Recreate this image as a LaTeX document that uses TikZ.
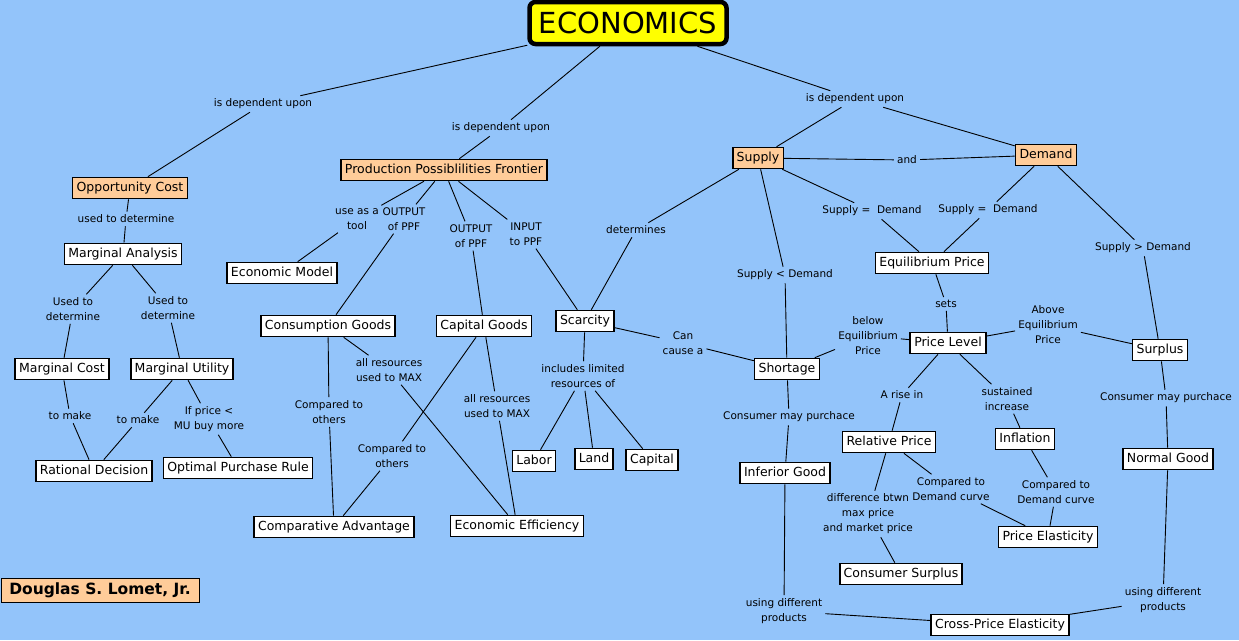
\documentclass[tikz,border=0pt]{standalone}
\usepackage{fontspec}
\setmainfont{DejaVu Sans}
\definecolor{sfondo}{RGB}{147,196,250}
\definecolor{arancio}{RGB}{255,204,153}
\definecolor{giallo}{RGB}{255,255,0}
\tikzset{
  concetto/.style={draw, line width=1.6pt, fill=white,
    font=\fontsize{12.5}{14}\selectfont, inner xsep=4pt, inner ysep=0pt,
    minimum height=21pt, text height=9.5pt, text depth=2.5pt},
  chiave/.style={concetto, fill=arancio},
  radice/.style={draw, line width=4.5pt, rounded corners=6pt, fill=giallo,
    font=\fontsize{29}{32}\selectfont, minimum width=197pt, minimum height=42pt},
  firma/.style={draw, line width=0.8pt, fill=arancio,
    font=\bfseries\fontsize{15.5}{17}\selectfont, minimum width=198pt, minimum height=24pt},
  legame/.style={font=\fontsize{10.5}{15}\selectfont, align=center, inner sep=3pt},
  filo/.style={line width=0.9pt},
}
\begin{document}
\begin{tikzpicture}[x=1pt,y=-1pt]
        % --- macro riutilizzabili -----------------------------------------
        \def\concetto#1#2#3{\node[concetto] (#1) at (#2) {#3};}
        \def\arancio#1#2#3{\node[chiave] (#1) at (#2) {#3};}
        \def\legame#1#2#3{\node[legame] (#1) at (#2) {#3};}
        \def\lega#1#2{\draw[filo] (#1) -- (#2);}
        % --- sfondo -------------------------------------------------------
        \fill[sfondo] (0,0) rectangle (1239,640);
        \useasboundingbox (0,0) rectangle (1239,640);
        % --- concetti -----------------------------------------------------
        \node[radice] (eco) at (628,23) {ECONOMICS};
        \arancio{opp}{130,188}{Opportunity Cost}
        \arancio{ppf}{444,170}{Production Possiblilities Frontier}
        \arancio{sup}{758,158}{Supply}
        \arancio{dem}{1046,155}{Demand}
        \concetto{man}{123,254}{Marginal Analysis}
        \concetto{mod}{282,273}{Economic Model}
        \concetto{cons}{328,326}{Consumption Goods}
        \concetto{capg}{484,326}{Capital Goods}
        \concetto{scar}{585,321}{Scarcity}
        \concetto{equ}{932,263}{Equilibrium Price}
        \concetto{short}{787,369}{Shortage}
        \concetto{plev}{948,343}{Price Level}
        \concetto{surp}{1160,350}{Surplus}
        \concetto{mcost}{62,369}{Marginal Cost}
        \concetto{mutil}{182,369}{Marginal Utility}
        \concetto{rat}{94,471}{Rational Decision}
        \concetto{opt}{238,468}{Optimal Purchase Rule}
        \concetto{comp}{334,527}{Comparative Advantage}
        \concetto{eff}{517,526}{Economic Efficiency}
        \concetto{lab}{534,461}{Labor}
        \concetto{land}{594,459}{Land}
        \concetto{capi}{652,460}{Capital}
        \concetto{rel}{889,442}{Relative Price}
        \concetto{infl}{1025,439}{Inflation}
        \concetto{inf}{785,473}{Inferior Good}
        \concetto{norm}{1168,459}{Normal Good}
        \concetto{pel}{1048,537}{Price Elasticity}
        \concetto{csur}{901,574}{Consumer Surplus}
        \concetto{cross}{1000,625}{Cross-Price Elasticity}
        \node[firma] (autore) at (100,590) {Douglas S. Lomet, Jr.};
        % --- frasi di collegamento ----------------------------------------
        \legame{dipA}{263,104}{is dependent upon}
        \legame{dipB}{501,128}{is dependent upon}
        \legame{dipC}{855,99}{is dependent upon}
        \legame{usoA}{126,219}{used to determine}
        \legame{usoB}{73,309}{Used to\\determine}
        \legame{usoC}{168,308}{Used to\\determine}
        \legame{fareA}{70,416}{to make}
        \legame{fareB}{138,420}{to make}
        \legame{regola}{209,419}{If price <\\MU buy more}
        \legame{tool}{357,219}{use as a\\tool}
        \legame{outA}{404,219}{OUTPUT\\of PPF}
        \legame{outB}{471,236}{OUTPUT\\of PPF}
        \legame{inp}{526,234}{INPUT\\to PPF}
        \legame{det}{636,230}{determines}
        \legame{maxA}{389,370}{all resources\\used to MAX}
        \legame{cfrA}{329,412}{Compared to\\others}
        \legame{maxB}{497,406}{all resources\\used to MAX}
        \legame{cfrB}{392,456}{Compared to\\others}
        \legame{incl}{583,376}{includes limited\\resources of}
        \legame{causa}{683,343}{Can\\cause a}
        \legame{meno}{785,275}{Supply < Demand}
        \legame{and}{907,160}{and}
        \legame{ugA}{872,211}{Supply = ~Demand}
        \legame{ugB}{988,210}{Supply = ~Demand}
        \legame{piu}{1143,248}{Supply > Demand}
        \legame{sets}{946,304}{sets}
        \legame{sotto}{868,336}{below\\Equilibrium\\Price}
        \legame{sopra}{1048,325}{Above\\Equilibrium\\Price}
        \legame{acqA}{789,417}{Consumer may purchace}
        \legame{rise}{902,395}{A rise in}
        \legame{sost}{1007,399}{sustained\\increase}
        \legame{acqB}{1166,398}{Consumer may purchace}
        \legame{diff}{868,514}{difference btwn\\max price\\and market price}
        \legame{cdA}{951,489}{Compared to\\Demand curve}
        \legame{cdB}{1056,492}{Compared to\\Demand curve}
        \legame{uA}{784,611}{using different\\products}
        \legame{uB}{1163,600}{using different\\products}
        % --- collegamenti -------------------------------------------------
        \lega{eco}{dipA} \lega{dipA}{opp}
        \lega{eco}{dipB} \lega{dipB}{ppf}
        \lega{eco}{dipC} \lega{dipC}{sup} \lega{dipC}{dem}
        \lega{opp}{usoA} \lega{usoA}{man}
        \lega{man}{usoB} \lega{usoB}{mcost}
        \lega{man}{usoC} \lega{usoC}{mutil}
        \lega{mcost}{fareA} \lega{fareA}{rat}
        \lega{mutil}{fareB} \lega{fareB}{rat}
        \lega{mutil}{regola} \lega{regola}{opt}
        \lega{ppf}{tool} \lega{tool}{mod}
        \lega{ppf}{outA} \lega{outA}{cons}
        \lega{ppf}{outB} \lega{outB}{capg}
        \lega{ppf}{inp} \lega{inp}{scar}
        \lega{cons}{maxA} \lega{maxA}{eff}
        \lega{cons}{cfrA} \lega{cfrA}{comp}
        \lega{capg}{maxB} \lega{maxB}{eff}
        \lega{capg}{cfrB} \lega{cfrB}{comp}
        \lega{scar}{incl} \lega{incl}{lab} \lega{incl}{land} \lega{incl}{capi}
        \lega{scar}{causa} \lega{causa}{short}
        \lega{sup}{det} \lega{det}{scar}
        \lega{sup}{meno} \lega{meno}{short}
        \lega{sup}{and} \lega{and}{dem}
        \lega{sup}{ugA} \lega{ugA}{equ}
        \lega{dem}{ugB} \lega{ugB}{equ}
        \lega{dem}{piu} \lega{piu}{surp}
        \lega{equ}{sets} \lega{sets}{plev}
        \lega{plev}{sotto} \lega{sotto}{short}
        \lega{plev}{sopra} \lega{sopra}{surp}
        \lega{plev}{rise} \lega{rise}{rel}
        \lega{plev}{sost} \lega{sost}{infl}
        \lega{short}{acqA} \lega{acqA}{inf}
        \lega{surp}{acqB} \lega{acqB}{norm}
        \lega{rel}{diff} \lega{diff}{csur}
        \lega{rel}{cdA} \lega{cdA}{pel}
        \lega{infl}{cdB} \lega{cdB}{pel}
        \lega{inf}{uA} \lega{uA}{cross}
        \lega{norm}{uB} \lega{uB}{cross}
\end{tikzpicture}
\end{document}
